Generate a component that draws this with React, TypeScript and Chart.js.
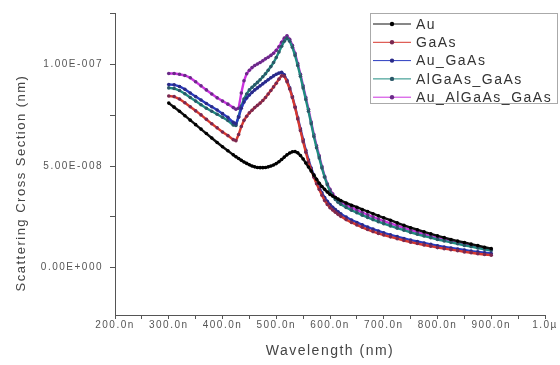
import React, { useEffect, useRef } from "react";
import { Chart, registerables } from "chart.js";

Chart.register(...registerables);

// Wavelength (nm) sample positions
const wavelengths = [
  300, 310, 320, 330, 340, 350, 360, 370, 380, 390, 400, 410, 420,
  425, 430, 435, 440, 445, 450, 455, 460, 465, 470,
  475, 480, 485, 490, 495, 500, 505, 510, 515, 520,
  525, 530, 535, 540, 545, 550, 555, 560, 565, 570,
  575, 580, 585, 590, 595, 600, 605, 610, 615, 620,
  630, 640, 650, 660, 670, 680, 690, 700,
  712.5, 725, 737.5, 750, 762.5, 775, 787.5, 800,
  812.5, 825, 837.5, 850, 862.5, 875, 887.5, 900,
];

// Scattering cross section, in units of 1E-8
const au = [
  8.10, 7.90, 7.70, 7.48, 7.26, 7.04, 6.82, 6.60, 6.38, 6.16, 5.95, 5.75, 5.55,
  5.46, 5.37, 5.28, 5.20, 5.13, 5.06, 5.00, 4.96, 4.93, 4.92,
  4.92, 4.93, 4.96, 5.00, 5.05, 5.12, 5.21, 5.32, 5.44, 5.55,
  5.64, 5.70, 5.71, 5.65, 5.52, 5.35, 5.15, 4.95, 4.75, 4.55,
  4.35, 4.15, 3.99, 3.85, 3.72, 3.60, 3.52, 3.45, 3.37, 3.30,
  3.18, 3.07, 2.97, 2.86, 2.76, 2.65, 2.55, 2.45,
  2.33, 2.20, 2.08, 1.96, 1.86, 1.76, 1.66, 1.56,
  1.47, 1.38, 1.30, 1.23, 1.15, 1.08, 1.00, 0.93,
];
const gaAs = [
  8.45, 8.42, 8.30, 8.12, 7.92, 7.72, 7.52, 7.30, 7.08, 6.88, 6.68, 6.50, 6.30,
  6.25, 6.55, 6.95, 7.25, 7.45, 7.62, 7.75, 7.88, 7.99, 8.10,
  8.23, 8.38, 8.55, 8.72, 8.90, 9.08, 9.28, 9.45, 9.42, 9.15,
  8.80, 8.38, 7.88, 7.32, 6.75, 6.20, 5.68, 5.20, 4.80, 4.45,
  4.13, 3.85, 3.56, 3.30, 3.11, 2.95, 2.83, 2.72, 2.62, 2.52,
  2.36, 2.22, 2.10, 1.98, 1.87, 1.77, 1.68, 1.60,
  1.51, 1.42, 1.33, 1.25, 1.18, 1.11, 1.05, 0.98,
  0.93, 0.88, 0.83, 0.77, 0.73, 0.68, 0.64, 0.61,
];
const auGaAs = [
  9.02, 9.00, 8.92, 8.78, 8.60, 8.42, 8.25, 8.08, 7.92, 7.76, 7.58, 7.40, 7.15,
  7.08, 7.40, 7.85, 8.15, 8.35, 8.50, 8.63, 8.75, 8.85, 8.95,
  9.05, 9.15, 9.25, 9.35, 9.44, 9.52, 9.58, 9.62, 9.50, 9.22,
  8.85, 8.42, 7.92, 7.38, 6.83, 6.30, 5.78, 5.30, 4.90, 4.55,
  4.23, 3.95, 3.68, 3.45, 3.26, 3.10, 2.97, 2.85, 2.75, 2.65,
  2.48, 2.34, 2.22, 2.10, 1.99, 1.89, 1.80, 1.71,
  1.61, 1.52, 1.43, 1.35, 1.28, 1.21, 1.14, 1.07,
  1.01, 0.96, 0.91, 0.86, 0.81, 0.77, 0.73, 0.69,
];
const alGaAsGaAs = [
  8.85, 8.82, 8.72, 8.56, 8.38, 8.20, 8.02, 7.85, 7.70, 7.55, 7.40, 7.24, 7.02,
  7.00, 7.45, 7.95, 8.30, 8.55, 8.75, 8.88, 9.00, 9.12, 9.25,
  9.40, 9.55, 9.72, 9.90, 10.10, 10.35, 10.62, 10.90, 11.15, 11.30,
  11.15, 10.85, 10.45, 9.95, 9.42, 8.85, 8.28, 7.70, 7.08, 6.45,
  5.90, 5.40, 4.90, 4.45, 4.08, 3.75, 3.52, 3.35, 3.22, 3.12,
  2.96, 2.82, 2.70, 2.58, 2.47, 2.36, 2.26, 2.16,
  2.05, 1.94, 1.84, 1.73, 1.64, 1.55, 1.47, 1.38,
  1.31, 1.24, 1.17, 1.09, 1.03, 0.96, 0.90, 0.84,
];
const auAlGaAsGaAs = [
  9.56, 9.56, 9.52, 9.46, 9.35, 9.15, 8.95, 8.75, 8.55, 8.36, 8.20, 8.05, 7.88,
  7.80, 7.85, 8.60, 9.20, 9.55, 9.72, 9.85, 9.95, 10.03, 10.10,
  10.19, 10.28, 10.36, 10.45, 10.56, 10.70, 10.88, 11.10, 11.30, 11.42,
  11.25, 10.95, 10.55, 10.05, 9.52, 8.95, 8.38, 7.80, 7.17, 6.55,
  6.00, 5.50, 4.98, 4.50, 4.13, 3.85, 3.63, 3.45, 3.32, 3.22,
  3.08, 2.95, 2.83, 2.71, 2.60, 2.49, 2.39, 2.29,
  2.17, 2.06, 1.95, 1.84, 1.74, 1.64, 1.55, 1.45,
  1.38, 1.30, 1.22, 1.16, 1.08, 1.01, 0.94, 0.88,
];

const seriesLabels = ["Au", "GaAs", "Au_GaAs", "AlGaAs_GaAs", "Au_AlGaAs_GaAs"];
const seriesValues = [au, gaAs, auGaAs, alGaAsGaAs, auAlGaAsGaAs];
const seriesColors = ["#111111", "#d8382e", "#2a3cc0", "#1f8c80", "#cc34e0"];
const markerColors = ["#000000", "#7a2850", "#2a2a88", "#2a5868", "#6a2a88"];

const xTickValues = [200, 250, 300, 350, 400, 450, 500, 550, 600, 650, 700, 750, 800, 850, 900, 950, 1000];
const xTickLabels = ["200.0n", "", "300.0n", "", "400.0n", "", "500.0n", "", "600.0n", "", "700.0n", "", "800.0n", "", "900.0n", "", "1.0\u00b5"];
const yTickValues = [0, 2.5e-8, 5e-8, 7.5e-8, 1e-7, 1.25e-7];
const yTickLabels = ["0.00E+000", "", "5.00E-008", "", "1.00E-007", ""];

const xTitle = "Wavelength (nm)";
const yTitle = "Scattering Cross Section (nm)";

const FONT = '"Liberation Sans", Arial, sans-serif';

export default function App() {
  const ref = useRef<HTMLCanvasElement>(null);

  useEffect(() => {
    const canvas = ref.current;
    if (!canvas) return;

    const datasets = seriesLabels.map((label, k) => ({
      label,
      data: wavelengths.map((w, i) => ({ x: w, y: seriesValues[k][i] * 1e-8 })),
      borderColor: seriesColors[k],
      backgroundColor: markerColors[k],
      pointBackgroundColor: markerColors[k],
      pointBorderWidth: 0,
      pointRadius: 1.8,
      borderWidth: 2.4,
      tension: 0,
      fill: false,
    }));

    const spacingPlugin = {
      id: "spacing",
      beforeLayout(chart: any) {
        chart.ctx.letterSpacing = "1.5px";
      },
      beforeDraw(chart: any) {
        chart.ctx.letterSpacing = "1.5px";
      },
    };

    const yTitlePlugin = {
      id: "ytitle",
      afterDraw(chart: any) {
        const c = chart.ctx;
        c.save();
        c.translate(21, 183);
        c.rotate(-Math.PI / 2);
        c.font = `13px ${FONT}`;
        c.fillStyle = "#444";
        c.textAlign = "center";
        c.textBaseline = "middle";
        c.fillText(yTitle, 0, 0);
        c.restore();
      },
    };

    const legendPlugin = {
      id: "boxlegend",
      afterDraw(chart: any) {
        const c = chart.ctx;
        c.save();
        c.fillStyle = "#ffffff";
        c.fillRect(370.5, 13.5, 187, 90);
        c.strokeStyle = "#aaaaaa";
        c.lineWidth = 1;
        c.strokeRect(370.5, 13.5, 187, 90);
        chart.data.datasets.forEach((ds: any, i: number) => {
          const y = 24 + i * 18.3;
          c.strokeStyle = ds.borderColor;
          c.lineWidth = 1;
          c.beginPath();
          c.moveTo(373, y);
          c.lineTo(411, y);
          c.stroke();
          c.fillStyle = ds.pointBackgroundColor;
          c.beginPath();
          c.arc(392, y, 2.2, 0, Math.PI * 2);
          c.fill();
          c.fillStyle = "#333";
          c.font = `14px ${FONT}`;
          c.textAlign = "left";
          c.textBaseline = "middle";
          c.fillText(ds.label, 416, y + 1);
        });
        c.restore();
      },
    };

    const chart = new Chart(canvas, {
      type: "line",
      data: { datasets },
      plugins: [spacingPlugin, yTitlePlugin, legendPlugin],
      options: {
        animation: false,
        responsive: true,
        maintainAspectRatio: false,
        layout: { padding: { top: 10, right: 15, left: 0, bottom: 0 } },
        plugins: {
          legend: { display: false },
          tooltip: { enabled: false },
        },
        scales: {
          x: {
            type: "linear",
            min: 200,
            max: 1000,
            afterBuildTicks: (s: any) => {
              s.ticks = xTickValues.map((v) => ({ value: v }));
            },
            afterFit: (s: any) => {
              s.height = 50;
            },
            ticks: {
              autoSkip: false,
              maxRotation: 0,
              padding: 0,
              color: "#555",
              font: { family: FONT, size: 10 },
              callback: (v: any) => xTickLabels[xTickValues.indexOf(v)] ?? "",
            },
            grid: { display: true, drawOnChartArea: false, drawTicks: true, tickLength: 4, tickColor: "#555" },
            border: { display: true, color: "#555", width: 1 },
            title: {
              display: true,
              text: xTitle,
              color: "#444",
              font: { family: FONT, size: 14 },
              padding: { top: 0, bottom: 5 },
            },
          },
          y: {
            type: "linear",
            min: -2.34e-8,
            max: 1.254e-7,
            afterBuildTicks: (s: any) => {
              s.ticks = yTickValues.map((v) => ({ value: v }));
            },
            afterFit: (s: any) => {
              s.width = 115;
            },
            ticks: {
              autoSkip: false,
              padding: 7,
              color: "#555",
              font: { family: FONT, size: 10 },
              callback: (v: any) => yTickLabels[yTickValues.indexOf(v)] ?? "",
            },
            grid: { display: true, drawOnChartArea: false, drawTicks: true, tickLength: 5, tickColor: "#555" },
            border: { display: true, color: "#555", width: 1 },
            title: { display: false },
          },
        },
      },
    } as any);

    return () => chart.destroy();
  }, []);

  return (
    <div style={{ position: "fixed", left: 0, top: 0, width: 560, height: 365, background: "#fff" }}>
      <canvas ref={ref} />
    </div>
  );
}
